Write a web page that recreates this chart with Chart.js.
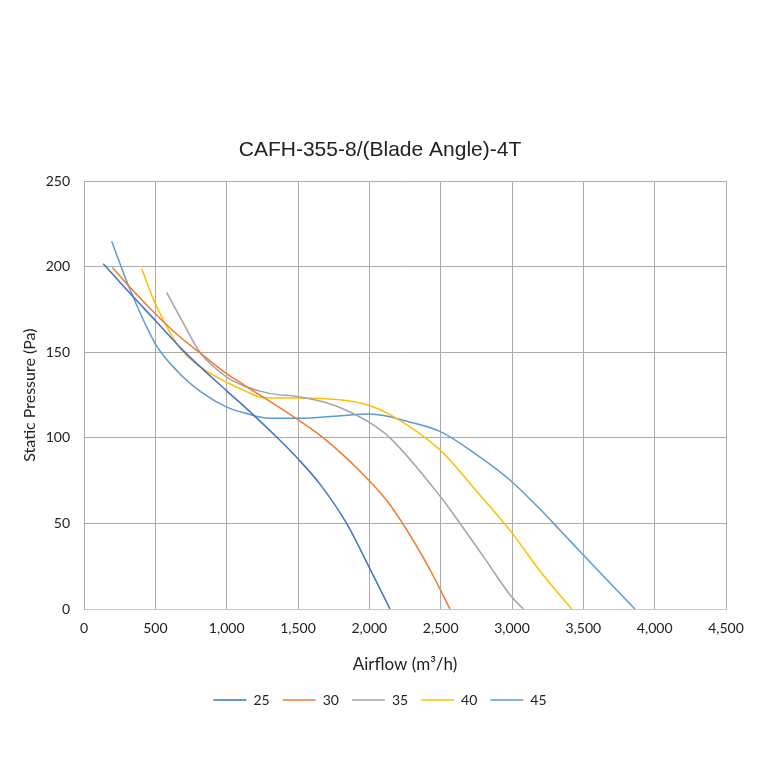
<!DOCTYPE html>
<html>
<head>
<meta charset="utf-8">
<script src="https://cdn.jsdelivr.net/npm/chart.js@4/dist/chart.umd.min.js"></script>
<style>
  html, body { margin: 0; padding: 0; background: #fff; }
  #wrap { width: 760px; height: 760px; }
</style>
</head>
<body>
<div id="wrap"><canvas id="grafico"></canvas></div>
<script>
// curvas por angulo de alabe
var angulos = ["25", "30", "35", "40", "45"];
var colores = ["#4472C4", "#ED7D31", "#A5A5A5", "#FFC000", "#5B9BD5"];

var caudal25 = [135, 311, 500, 696, 1000, 1128, 1350, 1502, 1654, 1841, 2000, 2145];
var presion25 = [201.8, 185.5, 168.6, 151, 127.5, 118, 100.5, 87.6, 73, 50, 24.2, 0];

var caudal30 = [199, 311, 500, 661, 813, 1000, 1128, 1502, 1678, 2000, 2145, 2420, 2565];
var presion30 = [199.6, 189, 172.5, 159.8, 149.7, 137.5, 130.6, 110.5, 100, 75, 60.9, 23.8, 0];

var caudal35 = [579, 684, 813, 1000, 1128, 1300, 1502, 1700, 1841, 2000, 2145, 2495, 2636, 2800, 2993, 3080];
var presion35 = [185, 169, 150, 135.5, 130.2, 126, 124, 120.5, 116, 109, 100, 66, 50, 30.6, 7.6, 0];

var caudal40 = [404, 500, 615, 708, 871, 1000, 1128, 1257, 1502, 1841, 2000, 2145, 2495, 2750, 2993, 3196, 3418];
var presion40 = [198.9, 178.4, 159.8, 149, 138.4, 132.5, 127.5, 123.5, 123.3, 121.8, 118.9, 113.6, 93, 69, 45.2, 22.2, 0];

var caudal45 = [194, 311, 500, 661, 825, 1000, 1128, 1300, 1502, 1800, 2000, 2145, 2250, 2495, 2729, 2993, 3196, 3337, 3495, 3700, 3862];
var presion45 = [214.9, 189, 155, 138.4, 126.6, 118, 114.5, 111.5, 111.5, 113, 114, 112.4, 110, 103.8, 91.5, 74.8, 58.4, 46, 32, 14, 0];

var caudales = [caudal25, caudal30, caudal35, caudal40, caudal45];
var presiones = [presion25, presion30, presion35, presion40, presion45];

var fuente = "'Lato', 'Liberation Sans', sans-serif";

var series = [];
for (let i = 0; i < angulos.length; i++) {
    let puntos = [];
    for (let j = 0; j < caudales[i].length; j++) {
        puntos.push({ x: caudales[i][j], y: presiones[i][j] });
    }
    series.push({
        label: angulos[i],
        data: puntos,
        borderColor: colores[i],
        backgroundColor: colores[i],
        borderWidth: 1.5,
        pointRadius: 0,
        cubicInterpolationMode: "monotone",
        fill: false
    });
}

var ctx = document.getElementById("grafico").getContext("2d");
var chart = new Chart(ctx, {
    type: "line",
    data: { datasets: series },
    options: {
        responsive: true,
        maintainAspectRatio: false,
        animation: false,
        layout: { padding: { top: 120, right: 0, bottom: 43, left: 0 } },
        plugins: {
            title: {
                display: true,
                text: "CAFH-355-8/(Blade Angle)-4T",
                color: "#222",
                font: { family: "'Liberation Sans', Arial, sans-serif", size: 21, weight: "normal" },
                padding: { top: 18, bottom: 18 }
            },
            legend: {
                position: "bottom",
                labels: {
                    usePointStyle: true,
                    pointStyle: "line",
                    pointStyleWidth: 33,
                    boxHeight: 2,
                    color: "#222",
                    font: { family: fuente, size: 14 },
                    padding: 13
                }
            },
            tooltip: { enabled: false }
        },
        scales: {
            x: {
                type: "linear",
                min: 0,
                max: 4500,
                afterFit: function (s) { s.height = 71; },
                ticks: {
                    stepSize: 500,
                    color: "#222",
                    font: { family: fuente, size: 14 },
                    padding: 11,
                    maxRotation: 0,
                    callback: function (v) { return v.toLocaleString("en-US"); }
                },
                grid: { color: "#ABABAB", lineWidth: 1, drawTicks: false },
                border: { color: "#C8C8C8" },
                title: {
                    display: true,
                    text: "Airflow (m³/h)",
                    color: "#222",
                    font: { family: fuente, size: 17 },
                    padding: { top: 0, bottom: 5 }
                }
            },
            y: {
                min: 0,
                max: 250,
                afterFit: function (s) { s.width = 84; },
                ticks: {
                    stepSize: 50,
                    color: "#222",
                    font: { family: fuente, size: 14 },
                    padding: 14
                },
                grid: { color: "#ABABAB", lineWidth: 1, drawTicks: false },
                border: { color: "#ABABAB" },
                title: {
                    display: true,
                    text: "Static Pressure (Pa)",
                    color: "#222",
                    font: { family: fuente, size: 16 },
                    padding: { top: 20, bottom: 0 }
                }
            },
            // eje vacio solo para dejar el margen derecho
            margen: {
                position: "right",
                afterFit: function (s) { s.width = 34; },
                ticks: { display: false },
                grid: { display: false },
                border: { display: false }
            }
        }
    }
});
</script>
</body>
</html>
